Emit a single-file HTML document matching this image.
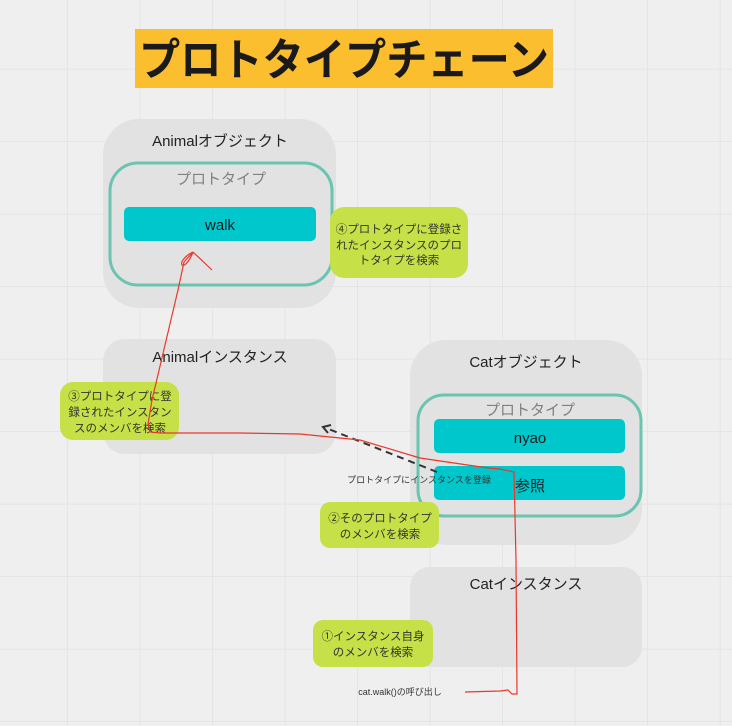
<!DOCTYPE html>
<html><head><meta charset="utf-8"><style>
html,body{margin:0;padding:0;width:732px;height:726px;overflow:hidden;background:#efefef}
svg{display:block}
text{font-family:"Liberation Sans","Noto Sans CJK JP",sans-serif}
</style></head><body>
<svg width="732" height="726" viewBox="0 0 732 726" xmlns="http://www.w3.org/2000/svg">
<defs>
<pattern id="g" x="-4.5" y="-3" width="72.5" height="72.5" patternUnits="userSpaceOnUse">
<path d="M72.5 0V72.5M0 72.5H72.5" stroke="#e2e2e2" stroke-width="1.5" fill="none"/>
</pattern>
</defs>
<rect width="732" height="726" fill="#efefef"/>
<rect width="732" height="726" fill="url(#g)"/>

<rect x="135" y="29" width="418" height="59" fill="#fbbe2e"/>
<text x="344" y="75" font-size="44" font-weight="bold" text-anchor="middle" fill="#1a1a1a" textLength="410" lengthAdjust="spacingAndGlyphs">プロトタイプチェーン</text>

<!-- Animal object -->
<rect x="103" y="119" width="233" height="189" rx="36" fill="#e2e2e2"/>
<text x="220" y="146" font-size="15" text-anchor="middle" fill="#222">Animalオブジェクト</text>
<rect x="110" y="163" width="222" height="122" rx="28" fill="none" stroke="#6cc3b1" stroke-width="3"/>
<text x="221" y="184" font-size="15" text-anchor="middle" fill="#808080">プロトタイプ</text>
<rect x="124" y="207" width="192" height="34" rx="5" fill="#00c7cc"/>
<text x="220" y="230" font-size="15" text-anchor="middle" fill="#1a1a1a">walk</text>

<rect x="330" y="207" width="138" height="71" rx="14" fill="#c6e147"/>
<text font-size="11.5" text-anchor="middle" fill="#333"><tspan x="399" y="233">④プロトタイプに登録さ</tspan><tspan x="399" y="249">れたインスタンスのプロ</tspan><tspan x="399" y="264">トタイプを検索</tspan></text>

<!-- Animal instance -->
<rect x="103" y="339" width="233" height="115" rx="22" fill="#e2e2e2"/>
<text x="220" y="362" font-size="15" text-anchor="middle" fill="#222">Animalインスタンス</text>

<rect x="60" y="382" width="119" height="58" rx="13" fill="#c6e147"/>
<text font-size="11.5" text-anchor="middle" fill="#333"><tspan x="120" y="400">③プロトタイプに登</tspan><tspan x="120" y="416">録されたインスタン</tspan><tspan x="120" y="432">スのメンバを検索</tspan></text>

<!-- Cat object -->
<rect x="410" y="340" width="232" height="205" rx="36" fill="#e2e2e2"/>
<text x="526" y="367" font-size="15" text-anchor="middle" fill="#222">Catオブジェクト</text>
<rect x="418" y="395" width="223" height="121" rx="26" fill="none" stroke="#6cc3b1" stroke-width="3"/>
<text x="530" y="415" font-size="15" text-anchor="middle" fill="#808080">プロトタイプ</text>
<rect x="434" y="419" width="191" height="34" rx="5" fill="#00c7cc"/>
<text x="530" y="443" font-size="15" text-anchor="middle" fill="#1a1a1a">nyao</text>
<rect x="434" y="466" width="191" height="34" rx="5" fill="#00c7cc"/>
<text x="530" y="491" font-size="15" text-anchor="middle" fill="#1a1a1a">参照</text>

<rect x="320" y="502" width="119" height="46" rx="10" fill="#c6e147"/>
<text font-size="11.5" text-anchor="middle" fill="#333"><tspan x="380" y="522">②そのプロトタイプ</tspan><tspan x="380" y="538">のメンバを検索</tspan></text>

<!-- Cat instance -->
<rect x="410" y="567" width="232" height="100" rx="20" fill="#e2e2e2"/>
<text x="526" y="589" font-size="15" text-anchor="middle" fill="#222">Catインスタンス</text>

<rect x="313" y="620" width="120" height="47" rx="10" fill="#c6e147"/>
<text font-size="11.5" text-anchor="middle" fill="#333"><tspan x="373" y="640">①インスタンス自身</tspan><tspan x="373" y="656">のメンバを検索</tspan></text>

<!-- dashed arrow -->
<path d="M437 472 L326 428" stroke="#333" stroke-width="2" stroke-dasharray="7 5" fill="none"/>
<path d="M331 425 L323 427 L328 433" stroke="#333" stroke-width="2" fill="none"/>
<text x="419" y="483" font-size="9" text-anchor="middle" fill="#333">プロトタイプにインスタンスを登録</text>

<text x="400" y="695" font-size="9" text-anchor="middle" fill="#333">cat.walk()の呼び出し</text>

<!-- red path -->
<path d="M465 692 L500 691 L508 690 L512 694 L517 694 L516 560 L514 472 L500 469 L488 468 L420 458 L360 440 L300 434 L240 433 L160 433 L150 432 L148 424 L152 400 L165 345 L178 290 L184 262 L193 252" stroke="#e8382c" stroke-width="1.2" fill="none"/>
<path d="M193 252 L212 270 M193 252 C186 255 180 262 182 265 C185 267 190 260 193 252" stroke="#e8382c" stroke-width="1.2" fill="none"/>
</svg>
</body></html>
